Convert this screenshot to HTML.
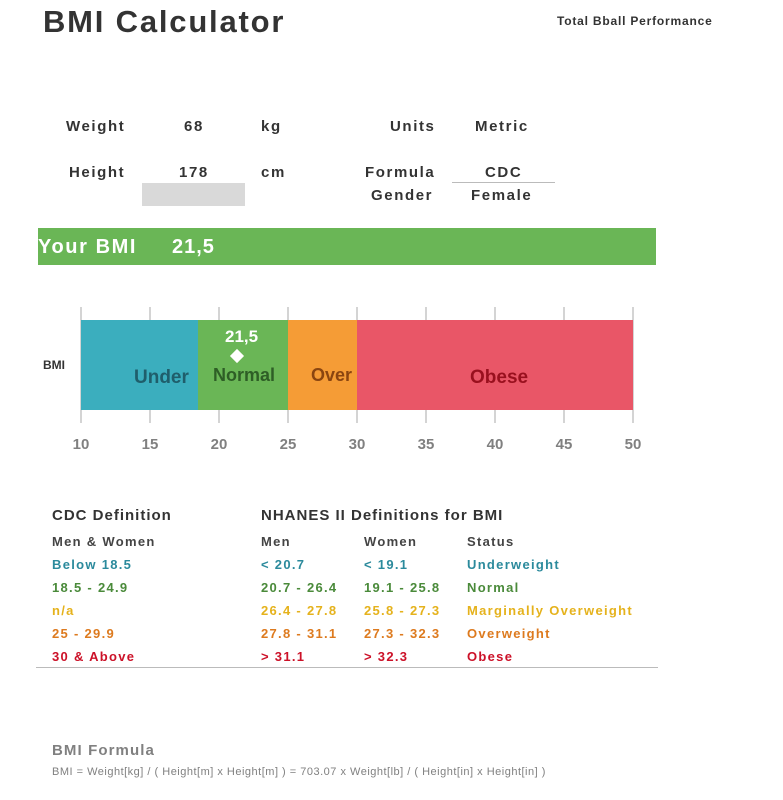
<!DOCTYPE html>
<html><head><meta charset="utf-8"><style>
body{margin:0;width:783px;height:800px;background:#fff;position:relative;font-family:"Liberation Sans",Arial,sans-serif;overflow:hidden}
div{position:absolute;white-space:nowrap}
.b{font-weight:bold}
.l{font-size:15px;font-weight:bold;color:#333;letter-spacing:1.6px}
.t{font-size:13px;font-weight:bold;letter-spacing:1.3px}
.gl{width:2px;background:#d4d4d4;top:307px;height:116px}
.tk{font-size:15px;font-weight:bold;color:#808080;top:436px;width:40px;text-align:center}
</style></head><body>
<div class="b" style="left:43px;top:4px;font-size:31px;color:#333;letter-spacing:1.8px">BMI Calculator</div>
<div class="b" style="left:557px;top:14px;font-size:12px;color:#333;letter-spacing:0.8px">Total Bball Performance</div>

<div class="l" style="left:66px;top:118px">Weight</div>
<div class="l" style="left:184px;top:118px">68</div>
<div class="l" style="left:261px;top:118px">kg</div>
<div class="l" style="left:390px;top:118px">Units</div>
<div class="l" style="left:475px;top:118px">Metric</div>
<div class="l" style="left:69px;top:164px">Height</div>
<div class="l" style="left:179px;top:164px">178</div>
<div class="l" style="left:261px;top:164px">cm</div>
<div class="l" style="left:365px;top:164px">Formula</div>
<div class="l" style="left:485px;top:164px">CDC</div>
<div style="left:452px;top:182px;width:103px;height:1px;background:#bbb"></div>
<div style="left:142px;top:183px;width:103px;height:23px;background:#d9d9d9"></div>
<div class="l" style="left:371px;top:187px">Gender</div>
<div class="l" style="left:471px;top:187px">Female</div>

<div style="left:38px;top:228px;width:618px;height:37px;background:#6ab656"></div>
<div class="b" style="left:38px;top:236px;font-size:20px;color:#fff;letter-spacing:1.6px">Your BMI</div>
<div class="b" style="left:172px;top:236px;font-size:20px;color:#fff;letter-spacing:1px">21,5</div>

<div class="gl" style="left:80px"></div><div class="gl" style="left:149px"></div><div class="gl" style="left:218px"></div><div class="gl" style="left:287px"></div><div class="gl" style="left:356px"></div><div class="gl" style="left:425px"></div><div class="gl" style="left:494px"></div><div class="gl" style="left:563px"></div><div class="gl" style="left:632px"></div>
<div style="left:81px;top:320px;width:117px;height:90px;background:#3baebe"></div>
<div style="left:198px;top:320px;width:90px;height:90px;background:#6ab656"></div>
<div style="left:288px;top:320px;width:69px;height:90px;background:#f59c36"></div>
<div style="left:357px;top:320px;width:276px;height:90px;background:#e95667"></div>
<div class="b" style="left:134px;top:367px;font-size:19px;color:#1f5e6b">Under</div>
<div class="b" style="left:213px;top:365px;font-size:18px;color:#2e5e26">Normal</div>
<div class="b" style="left:311px;top:365px;font-size:18px;color:#8a4510">Over</div>
<div class="b" style="left:470px;top:367px;font-size:19px;color:#99101e">Obese</div>
<div class="b" style="left:225px;top:327px;font-size:17px;color:#fff">21,5</div>
<div style="left:232px;top:351px;width:10px;height:10px;background:#fff;transform:rotate(45deg)"></div>
<div class="b" style="left:43px;top:358px;font-size:12px;color:#333">BMI</div>
<div class="tk" style="left:61px">10</div><div class="tk" style="left:130px">15</div><div class="tk" style="left:199px">20</div><div class="tk" style="left:268px">25</div><div class="tk" style="left:337px">30</div><div class="tk" style="left:406px">35</div><div class="tk" style="left:475px">40</div><div class="tk" style="left:544px">45</div><div class="tk" style="left:613px">50</div>

<div class="b" style="left:52px;top:507px;font-size:15px;color:#333;letter-spacing:1px">CDC Definition</div>
<div class="b" style="left:261px;top:507px;font-size:15px;color:#333;letter-spacing:1px">NHANES II Definitions for BMI</div>
<div class="t" style="left:52px;top:534px;color:#444">Men &amp; Women</div>
<div class="t" style="left:261px;top:534px;color:#444">Men</div>
<div class="t" style="left:364px;top:534px;color:#444">Women</div>
<div class="t" style="left:467px;top:534px;color:#444">Status</div>
<div class="t" style="left:52px;top:557px;color:#2b8a9c">Below 18.5</div>
<div class="t" style="left:261px;top:557px;color:#2b8a9c">&lt; 20.7</div>
<div class="t" style="left:364px;top:557px;color:#2b8a9c">&lt; 19.1</div>
<div class="t" style="left:467px;top:557px;color:#2b8a9c">Underweight</div>
<div class="t" style="left:52px;top:580px;color:#4a8a3a">18.5 - 24.9</div>
<div class="t" style="left:261px;top:580px;color:#4a8a3a">20.7 - 26.4</div>
<div class="t" style="left:364px;top:580px;color:#4a8a3a">19.1 - 25.8</div>
<div class="t" style="left:467px;top:580px;color:#4a8a3a">Normal</div>
<div class="t" style="left:52px;top:603px;color:#e5b21c">n/a</div>
<div class="t" style="left:261px;top:603px;color:#e5b21c">26.4 - 27.8</div>
<div class="t" style="left:364px;top:603px;color:#e5b21c">25.8 - 27.3</div>
<div class="t" style="left:467px;top:603px;color:#e5b21c">Marginally Overweight</div>
<div class="t" style="left:52px;top:626px;color:#dd7a1e">25 - 29.9</div>
<div class="t" style="left:261px;top:626px;color:#dd7a1e">27.8 - 31.1</div>
<div class="t" style="left:364px;top:626px;color:#dd7a1e">27.3 - 32.3</div>
<div class="t" style="left:467px;top:626px;color:#dd7a1e">Overweight</div>
<div class="t" style="left:52px;top:649px;color:#cc1128">30 &amp; Above</div>
<div class="t" style="left:261px;top:649px;color:#cc1128">&gt; 31.1</div>
<div class="t" style="left:364px;top:649px;color:#cc1128">&gt; 32.3</div>
<div class="t" style="left:467px;top:649px;color:#cc1128">Obese</div>
<div style="left:36px;top:667px;width:622px;height:1px;background:#bbb"></div>

<div class="b" style="left:52px;top:742px;font-size:15px;color:#808080;letter-spacing:1.1px">BMI Formula</div>
<div style="left:52px;top:766px;font-size:11px;color:#808080;letter-spacing:0.5px">BMI = Weight[kg] / ( Height[m] x Height[m] ) = 703.07 x Weight[lb] / ( Height[in] x Height[in] )</div>
</body></html>
